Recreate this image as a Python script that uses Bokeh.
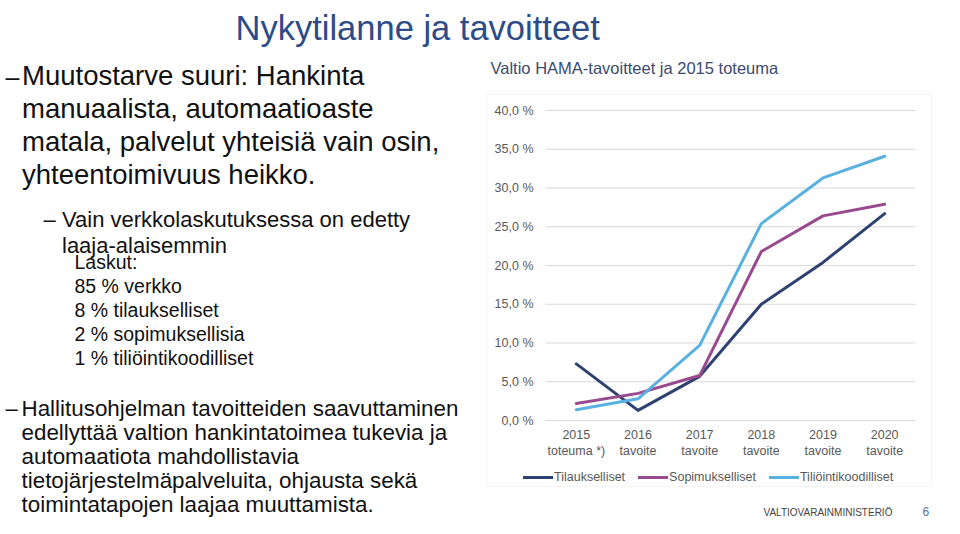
from bokeh.plotting import figure
from bokeh.models import (Label, Legend, LegendItem, BoxAnnotation, Range1d,
                          ColumnDataSource)
from bokeh.core.properties import value
from bokeh.embed import file_html
from bokeh.resources import INLINE

# ---------------- data ----------------
CATEGORIES = ["2015\ntoteuma *)", "2016\ntavoite", "2017\ntavoite",
              "2018\ntavoite", "2019\ntavoite", "2020\ntavoite"]
TILAUKSELLISET = [7.3, 1.3, 5.7, 15.0, 20.4, 26.7]
SOPIMUKSELLISET = [2.2, 3.5, 5.8, 21.8, 26.4, 27.9]
TILIOINTIKOODILLISET = [1.4, 2.8, 9.7, 25.4, 31.3, 34.1]
SERIES_NAMES = ["Tilaukselliset", "Sopimukselliset", "Tiliöintikoodilliset"]
Y_TICKS = [0, 5, 10, 15, 20, 25, 30, 35, 40]
Y_TICK_LABELS = ["0,0 %", "5,0 %", "10,0 %", "15,0 %", "20,0 %", "25,0 %",
                 "30,0 %", "35,0 %", "40,0 %"]

TITLE = "Nykytilanne ja tavoitteet"
CHART_TITLE = "Valtio HAMA-tavoitteet ja 2015 toteuma"
BULLET1 = ["Muutostarve suuri: Hankinta", "manuaalista, automaatioaste",
           "matala, palvelut yhteisiä vain osin,", "yhteentoimivuus heikko."]
BULLET2 = ["Vain verkkolaskutuksessa on edetty", "laaja-alaisemmin"]
BULLET3 = ["Laskut:", "85 % verkko", "8 % tilaukselliset", "2 % sopimuksellisia",
           "1 % tiliöintikoodilliset"]
BULLET4 = ["Hallitusohjelman tavoitteiden saavuttaminen",
           "edellyttää valtion hankintatoimea tukevia ja",
           "automaatiota mahdollistavia",
           "tietojärjestelmäpalveluita, ohjausta sekä",
           "toimintatapojen laajaa muuttamista."]
FOOTER = "VALTIOVARAINMINISTERIÖ"
PAGE_NO = "6"

# ---------------- styles / geometry ----------------
FONT = "Liberation Sans"
COLORS = ["#2e4272", "#994a8f", "#5ab1e0"]
GRID = "#d9d9d9"
TICK_COLOR = "#595959"
TEXT = "#111111"

W, H = 944, 518
PLOT_LEFT, PLOT_RIGHT, PLOT_TOP, PLOT_BOTTOM = 545, 915, 110, 420  # canvas px
N = len(CATEGORIES)
Y_MAX = Y_TICKS[-1]
CW = (PLOT_RIGHT - PLOT_LEFT) / N
PPU = (PLOT_BOTTOM - PLOT_TOP) / Y_MAX


def dx(px):
    return (px - PLOT_LEFT) / CW


def dy(py):
    return (PLOT_BOTTOM - py) / PPU


p = figure(width=W, height=H,
           x_range=Range1d(dx(0), dx(W)),
           y_range=Range1d(dy(H), dy(0)),
           output_backend="svg", toolbar_location=None,
           x_axis_location=None, y_axis_location=None, min_border=0)
p.outline_line_color = None
p.grid.visible = False
p.background_fill_color = "white"
p.border_fill_color = "white"

# chart box
p.add_layout(BoxAnnotation(left=dx(486), right=dx(931), top=dy(94), bottom=dy(486),
                           fill_alpha=0, line_color=GRID, line_width=1,
                           level="underlay"))

# grid lines and tick labels
p.segment(x0=[0] * len(Y_TICKS), x1=[N] * len(Y_TICKS), y0=Y_TICKS, y1=Y_TICKS,
          line_color=GRID, line_width=1)
p.text(x=[0] * len(Y_TICKS), y=Y_TICKS, text=Y_TICK_LABELS, x_offset=-12,
       text_align="right", text_baseline="middle", text_font=value(FONT),
       text_font_size=value("12.5px"), text_color=TICK_COLOR)
xs = [i + 0.5 for i in range(N)]
p.text(x=xs, y=[0] * N, text=CATEGORIES, y_offset=7, text_align="center",
       text_baseline="top", text_font=value(FONT), text_font_size=value("12.5px"),
       text_color=TICK_COLOR, text_line_height=1.15)

src = ColumnDataSource(dict(x=xs, a=TILAUKSELLISET, b=SOPIMUKSELLISET,
                            c=TILIOINTIKOODILLISET))
renderers = []
for col, color in zip(["a", "b", "c"], COLORS):
    r = p.line(x="x", y=col, source=src, line_color=color, line_width=3,
               line_join="round", line_cap="round")
    renderers.append(r)

legend = Legend(items=[LegendItem(label=n, renderers=[r]) for n, r in zip(SERIES_NAMES, renderers)],
                location=(523, H - 487), orientation="horizontal",
                padding=0, margin=0, spacing=13, glyph_width=30, glyph_height=20,
                label_height=20, label_standoff=1,
                label_text_font=FONT, label_text_font_size="12.5px",
                label_text_color=TICK_COLOR,
                border_line_alpha=0, background_fill_alpha=0)
p.add_layout(legend)


def label(text, x, baseline, size, color=TEXT):
    # place by visual centre of the capitals (baseline - 0.35 em)
    p.add_layout(Label(x=dx(x), y=dy(baseline - 0.35 * size), text=text,
                       text_font=FONT, text_font_size=f"{size}px",
                       text_color=color, text_baseline="middle",
                       text_align="left"))


# titles
label(TITLE, 235, 40, 34.5, color="#2d4b86")
label(CHART_TITLE, 490, 73, 16.5, color="#3b4a6f")

# left text
label("–", 5, 85, 25)
for i, t in enumerate(BULLET1):
    label(t, 21.5, 85 + 33 * i, 27.5)
label("–", 43, 227, 22)
for i, t in enumerate(BULLET2):
    label(t, 61.5, 227 + 26 * i, 22)
for i, t in enumerate(BULLET3):
    label(t, 74, 268 + 24 * i, 19.5)
label("–", 5, 416, 22)
for i, t in enumerate(BULLET4):
    label(t, 21, 416 + 24 * i, 22.4)

# footer
label(FOOTER, 763, 515, 10, color="#444444")
label(PAGE_NO, 922, 515.5, 12, color="#5b6f96")

open("out.html", "w").write(file_html(p, INLINE))
